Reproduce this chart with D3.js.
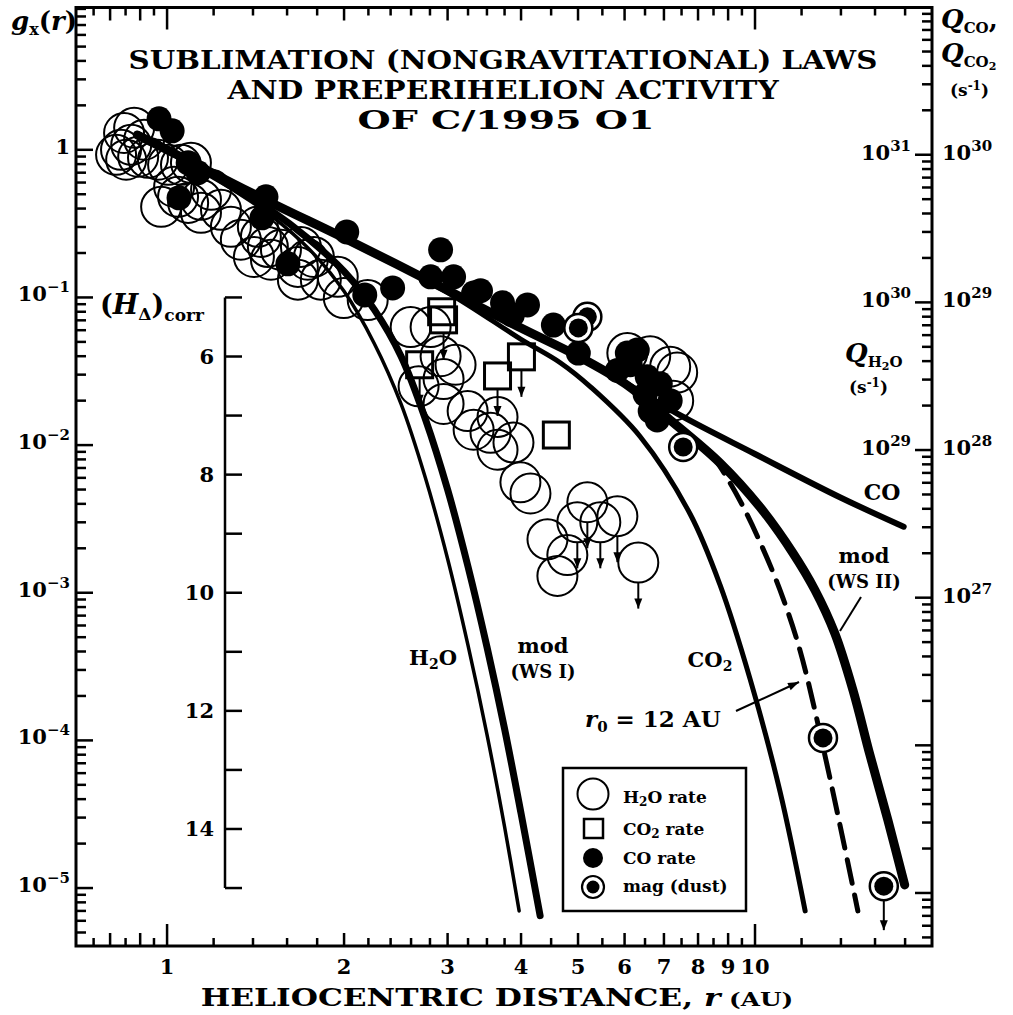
<!DOCTYPE html>
<html>
<head>
<meta charset="utf-8">
<script src="https://cdn.jsdelivr.net/npm/d3@7"></script>
<style>
  body { margin: 0; background: #fff; }
  text { font-family: "DejaVu Serif", serif; font-weight: bold; fill: #000; }
</style>
</head>
<body>
<div id="chart"></div>
<script>
// ---- data ----
// open circles: H2O production rate, normalized (r in AU, g, upper limit flag)
var h2oRate = [
  [0.845,1.30],[0.835,1.0],[0.852,0.856],[0.869,1.08],[0.893,0.897],[0.928,0.883],[0.914,1.17],
  [0.965,0.856],[1.004,0.791],[1.056,0.791],[1.098,0.816],[1.044,0.48],[1.086,0.437],[1.142,0.458],
  [1.188,0.536],[1.235,0.392],[1.284,0.301],[1.335,0.246],[1.427,0.301],[1.484,0.22],[1.562,0.21],
  [1.669,0.161],[1.777,0.188],[1.951,0.138],[1.444,0.257],[1.405,0.188],[1.502,0.18],[1.669,0.132],
  [1.826,0.132],[1.735,0.18],[1.689,0.22],[1.998,0.099],[2.194,0.096],[2.596,0.063],[2.807,0.063],
  [2.919,0.040],[3.095,0.035],[2.678,0.025],[2.953,0.028],[2.953,0.019],[3.245,0.017],[3.322,0.0127],
  [3.648,0.0155],[3.549,0.0121],[3.883,0.0104],[3.648,0.0093],[3.99,0.0056],[4.15,0.0047],
  [4.436,0.0023],[4.795,0.0018],[4.612,0.0013],[4.986,0.0030,1],[5.186,0.0041,1],[5.456,0.0030,1],
  [5.833,0.0033,1],[6.331,0.0016,1],[6.065,0.042],[6.633,0.040],[7.173,0.034],[7.258,0.020],
  [7.372,0.031],[0.879,1.41],[0.819,0.925],[0.977,0.411],[1.028,0.562],[1.142,0.374]
];
// open squares: CO2 rate
var co2Rate = [
  [2.931,0.080,0],[2.953,0.0705,1],[2.689,0.035,1],[3.648,0.0294,1],[4.006,0.0396,1],[4.593,0.0117,0]
];
// filled circles: CO rate
var coRate = [
  [0.969,1.62],[1.02,1.345],[1.086,0.816],[1.129,0.699],[1.048,0.473],[1.473,0.48],[1.45,0.346],
  [1.605,0.169],[2.021,0.278],[2.169,0.104],[2.419,0.116],[2.919,0.21],[2.807,0.138],[3.071,0.138],
  [3.322,0.107],[3.413,0.111],[3.72,0.092],[4.102,0.089],[4.54,0.065],[5.006,0.042],[6.065,0.042],
  [6.306,0.044],[5.833,0.032],[6.556,0.029],[6.9,0.026],[7.173,0.020],[6.633,0.017],[6.818,0.0148],
  [6.504,0.022],[6.136,0.035],[3.867,0.076]
];
// circled dots: magnitude (dust)
var magDust = [
  [5.186,0.0739,0],[5.006,0.0622,0],[7.548,0.0097,0],[13.05,1.04e-4,0],[16.56,1.03e-5,1]
];

// sublimation laws
var lawH2O = [[0.89,1.27],[1.0,1.0],[1.3,0.53],[1.5,0.36],[1.75,0.21],[2.0,0.11],[2.25,0.049],
  [2.5,0.019],[2.75,0.006],[3.0,0.0017],[3.25,4.4e-4],[3.5,1.1e-4],[3.75,2.6e-5],[3.97,7e-6]];
var lawModWS1 = [[0.89,1.27],[1.0,1.0],[1.3,0.55],[1.5,0.39],[1.75,0.245],[2.0,0.15],[2.25,0.083],
  [2.5,0.04],[2.75,0.015],[3.0,0.005],[3.25,0.0015],[3.5,4.3e-4],[3.75,1.2e-4],[4.0,3.2e-5],[4.31,6.5e-6]];
var lawCO = [[0.89,1.26],[1.0,1.0],[1.5,0.44],[2.0,0.253],[3.0,0.112],[4.0,0.062],[5.0,0.040],
  [6.0,0.0265],[7.55,0.0155],[10,0.0087],[14,0.0044],[17.9,0.0028]];
var lawCO2 = [[0.89,1.26],[1.5,0.44],[2.0,0.25],[3.0,0.108],[4.0,0.052],[4.67,0.036],[5.25,0.0248],
  [6.38,0.0114],[7.76,0.0034],[8.72,0.00113],[9.81,2.6e-4],[11.03,4.5e-5],[12.17,7e-6]];
var lawModWS2 = [[0.89,1.26],[1.0,1.0],[1.5,0.44],[2.0,0.253],[3.0,0.112],[4.0,0.062],[5.0,0.040],
  [6.0,0.0262],[7.17,0.0148],[8.71,0.0076],[10.2,0.0038],[11.6,0.00186],[12.65,0.00104],
  [13.67,5.3e-4],[14.67,2.2e-4],[15.68,8e-5],[16.82,2.9e-5],[17.97,1.05e-5]];
var lawR0_12 = [[8.4,0.0088],[8.71,0.0072],[9.43,0.0042],[10.2,0.0022],[11.03,0.00104],
  [11.92,4.1e-4],[13.2,7.4e-5],[14.96,7e-6]];

// axes
var rDomain = [0.7, 20];
var gDomain = [9.2, 4.05e-6];
var qCoPerG = 1.08e30;          // Q_CO (s-1) for g = 1
var qH2oPerG = 1.08e31;         // Q_H2O (s-1) for g = 1
var hDomain = [5, 15];          // (H_delta)corr
var hAtG = [0.1, 1e-5];         // g levels the H axis ends sit at
var rTickLabels = [1,2,3,4,5,6,7,8,9,10];
var rTicks = [0.75,0.8,0.85,0.9,0.95,1,1.2,1.4,1.6,1.8,2,2.2,2.4,2.6,2.8,3,3.25,3.5,3.75,4,
  4.5,5,5.5,6,6.5,7,7.5,8,8.5,9,9.5,10,12,14,16,18];
var rMidTicks = [0.8,0.9,2,3,4,5,6,7,8,9];
var gTickExp = [0,-1,-2,-3,-4,-5];
var qCoTickExp = [30,29,28,27];
var qH2oTickExp = [31,30,29];
var hTickLabels = [6,8,10,12,14];

// ---- drawing ----
var width = 1013, height = 1015;
var pL = 76, pR = 932, pT = 7.5, pB = 946;

var svg = d3.select("#chart").append("svg")
  .attr("width", width).attr("height", height);

var x = d3.scaleLog().domain(rDomain).range([pL, pR]);
var y = d3.scaleLog().domain(gDomain).range([pT, pB]);
var yQ = d3.scaleLog().domain([gDomain[0] * qCoPerG, gDomain[1] * qCoPerG]).range([pT, pB]);
var yH = d3.scaleLinear().domain(hDomain).range([y(hAtG[0]), y(hAtG[1])]);

// helper for text with sub/superscripts
function rich(sel, parts) {
  var prev = 0;
  parts.forEach(function(p) {
    var sh = p.shift || 0;
    var t = sel.append("tspan").text(p.t)
      .attr("font-size", p.size)
      .attr("dy", sh - prev);
    if (p.it) t.attr("font-style", "italic");
    prev = sh;
  });
  return sel;
}
function stretch(t, cx, target) {
  var w = t.node().getBBox().width;
  var s = target / w;
  t.attr("transform", "translate(" + cx + ",0) scale(" + s + ",1) translate(" + (-cx) + ",0)");
}
function arrow(x1, y1, x2, y2, hl, hw) {
  svg.append("line").attr("x1", x1).attr("y1", y1).attr("x2", x2).attr("y2", y2)
    .attr("stroke", "#000").attr("stroke-width", 2);
  var a = Math.atan2(y2 - y1, x2 - x1);
  var bx = x2 - hl * Math.cos(a), by = y2 - hl * Math.sin(a);
  var px = -Math.sin(a) * hw / 2, py = Math.cos(a) * hw / 2;
  svg.append("path")
    .attr("d", "M" + x2 + "," + y2 + "L" + (bx + px) + "," + (by + py) + "L" + (bx - px) + "," + (by - py) + "Z")
    .attr("fill", "#000");
}

// frame
svg.append("rect").attr("x", pL).attr("y", pT)
  .attr("width", pR - pL).attr("height", pB - pT)
  .attr("fill", "none").attr("stroke", "#000").attr("stroke-width", 3);

var ticks = svg.append("g").attr("stroke", "#000").attr("stroke-width", 2.5);

// x ticks top and bottom
rTicks.forEach(function(r) {
  var len = (r === 1 || r === 10) ? 22 : (rMidTicks.indexOf(r) >= 0 ? 13 : 8);
  ticks.append("line").attr("x1", x(r)).attr("x2", x(r)).attr("y1", pB).attr("y2", pB - len);
  ticks.append("line").attr("x1", x(r)).attr("x2", x(r)).attr("y1", pT).attr("y2", pT + len);
});
rTickLabels.forEach(function(r) {
  svg.append("text").attr("x", x(r)).attr("y", 974).attr("text-anchor", "middle")
    .attr("font-size", 21).text(r);
});

// left log ticks
for (var e = -6; e <= 0; e++) {
  for (var m = 1; m <= 9; m++) {
    var v = m * Math.pow(10, e);
    if (v > gDomain[0] || v < gDomain[1]) continue;
    var len = m === 1 ? 17 : 10;
    ticks.append("line").attr("x1", pL).attr("x2", pL + len).attr("y1", y(v)).attr("y2", y(v));
  }
}
gTickExp.forEach(function(ex) {
  var t = svg.append("text").attr("x", 70).attr("y", y(Math.pow(10, ex)) + 4).attr("text-anchor", "end");
  if (ex === 0) rich(t, [{t: "1", size: 21}]);
  else rich(t, [{t: "10", size: 21}, {t: "\u2212" + (-ex), size: 15, shift: -9}]);
});

// right log ticks (Q scale)
for (var e2 = 24; e2 <= 30; e2++) {
  for (var m2 = 1; m2 <= 9; m2++) {
    var q = m2 * Math.pow(10, e2);
    if (q > gDomain[0] * qCoPerG || q < gDomain[1] * qCoPerG) continue;
    var l2 = m2 === 1 ? 17 : 10;
    ticks.append("line").attr("x1", pR).attr("x2", pR - l2).attr("y1", yQ(q)).attr("y2", yQ(q));
  }
}
qCoTickExp.forEach(function(ex) {
  var t = svg.append("text").attr("x", 942).attr("y", yQ(Math.pow(10, ex)) + 5);
  rich(t, [{t: "10", size: 21}, {t: String(ex), size: 15, shift: -9}]);
});
qH2oTickExp.forEach(function(ex) {
  var q = Math.pow(10, ex) * qCoPerG / qH2oPerG;
  var t = svg.append("text").attr("x", 911).attr("y", yQ(q) + 5).attr("text-anchor", "end");
  rich(t, [{t: "10", size: 21}, {t: String(ex), size: 15, shift: -9}]);
});

// inner H axis
var hx = 225;
ticks.append("line").attr("x1", hx).attr("x2", hx).attr("y1", yH(hDomain[0])).attr("y2", yH(hDomain[1]));
d3.range(hDomain[0], hDomain[1] + 1).forEach(function(h) {
  ticks.append("line").attr("x1", hx).attr("x2", hx + 17).attr("y1", yH(h)).attr("y2", yH(h));
});
hTickLabels.forEach(function(h) {
  svg.append("text").attr("x", 214).attr("y", yH(h) + 7).attr("text-anchor", "end")
    .attr("font-size", 21).text(h);
});

// H2O circles
svg.append("g").selectAll("circle").data(h2oRate).enter().append("circle")
  .attr("cx", function(d) { return x(d[0]); })
  .attr("cy", function(d) { return y(d[1]); })
  .attr("r", 20)
  .attr("fill", "none").attr("stroke", "#000").attr("stroke-width", 2);

// curves
var line = d3.line()
  .x(function(d) { return x(d[0]); })
  .y(function(d) { return y(d[1]); })
  .curve(d3.curveCatmullRom.alpha(0.5));
var curves = [
  {d: lawH2O, w: 3.5},
  {d: lawModWS1, w: 7},
  {d: lawCO2, w: 5},
  {d: lawCO, w: 6},
  {d: lawModWS2, w: 9},
  {d: lawR0_12, w: 5, dash: "24,12"}
];
curves.forEach(function(c) {
  svg.append("path").attr("d", line(c.d))
    .attr("fill", "none").attr("stroke", "#000")
    .attr("stroke-width", c.w)
    .attr("stroke-linecap", "round").attr("stroke-linejoin", "round")
    .attr("stroke-dasharray", c.dash || null);
});

// CO2 squares
svg.append("g").selectAll("rect").data(co2Rate).enter().append("rect")
  .attr("x", function(d) { return x(d[0]) - 13; })
  .attr("y", function(d) { return y(d[1]) - 13; })
  .attr("width", 26).attr("height", 26)
  .attr("fill", "none").attr("stroke", "#000").attr("stroke-width", 3);

// CO dots
svg.append("g").selectAll("circle").data(coRate).enter().append("circle")
  .attr("cx", function(d) { return x(d[0]); })
  .attr("cy", function(d) { return y(d[1]); })
  .attr("r", 12.5).attr("fill", "#000");

// mag (dust)
var mg = svg.append("g").selectAll("g").data(magDust).enter().append("g");
mg.append("circle").attr("cx", function(d) { return x(d[0]); }).attr("cy", function(d) { return y(d[1]); })
  .attr("r", 14).attr("fill", "#fff").attr("stroke", "#000").attr("stroke-width", 2.5);
mg.append("circle").attr("cx", function(d) { return x(d[0]); }).attr("cy", function(d) { return y(d[1]); })
  .attr("r", 9.5).attr("fill", "#000");

// upper-limit arrows
h2oRate.filter(function(d) { return d[2]; }).forEach(function(d) {
  arrow(x(d[0]), y(d[1]) + 20, x(d[0]), y(d[1]) + 46, 10, 8);
});
co2Rate.filter(function(d) { return d[2]; }).forEach(function(d) {
  arrow(x(d[0]), y(d[1]) + 13, x(d[0]), y(d[1]) + 40, 10, 8);
});
magDust.filter(function(d) { return d[2]; }).forEach(function(d) {
  arrow(x(d[0]), y(d[1]) + 14, x(d[0]), y(d[1]) + 44, 10, 8);
});

// title
var t1 = svg.append("text").attr("x", 503).attr("y", 69).attr("text-anchor", "middle")
  .attr("font-size", 26).text("SUBLIMATION (NONGRAVITATIONAL) LAWS");
stretch(t1, 503, 749);
var t2 = svg.append("text").attr("x", 503).attr("y", 99).attr("text-anchor", "middle")
  .attr("font-size", 26).text("AND PREPERIHELION ACTIVITY");
stretch(t2, 503, 553);
var t3 = svg.append("text").attr("x", 506).attr("y", 129).attr("text-anchor", "middle")
  .attr("font-size", 26).text("OF C/1995 O1");
stretch(t3, 506, 297);

// axis titles
rich(svg.append("text").attr("x", 11).attr("y", 30), [
  {t: "g", size: 26, it: true}, {t: "x", size: 16, shift: 5}, {t: "(", size: 26}, {t: "r", size: 26, it: true}, {t: ")", size: 26}
]);
var xt = svg.append("text").attr("x", 497).attr("y", 1006).attr("text-anchor", "middle");
rich(xt, [{t: "HELIOCENTRIC DISTANCE, ", size: 24}, {t: "r", size: 24, it: true}, {t: " (AU)", size: 19}]);
stretch(xt, 497, 593);

rich(svg.append("text").attr("x", 100).attr("y", 314), [
  {t: "(", size: 27}, {t: "H", size: 27, it: true}, {t: "\u0394", size: 17, shift: 6},
  {t: ")", size: 27}, {t: "corr", size: 17, shift: 7}
]);

rich(svg.append("text").attr("x", 941).attr("y", 28), [
  {t: "Q", size: 26, it: true}, {t: "CO", size: 15, shift: 5}, {t: ",", size: 26}
]);
rich(svg.append("text").attr("x", 941).attr("y", 62), [
  {t: "Q", size: 26, it: true}, {t: "CO", size: 15, shift: 5}, {t: "2", size: 11, shift: 8}
]);
rich(svg.append("text").attr("x", 950).attr("y", 96), [
  {t: "(s", size: 17}, {t: "-1", size: 12, shift: -6}, {t: ")", size: 17}
]);
rich(svg.append("text").attr("x", 845).attr("y", 362), [
  {t: "Q", size: 26, it: true}, {t: "H", size: 15, shift: 5}, {t: "2", size: 11, shift: 8}, {t: "O", size: 15, shift: 5}
]);
rich(svg.append("text").attr("x", 849).attr("y", 393), [
  {t: "(s", size: 17}, {t: "-1", size: 12, shift: -6}, {t: ")", size: 17}
]);

// curve labels
svg.append("text").attr("x", 882).attr("y", 500).attr("text-anchor", "middle").attr("font-size", 22).text("CO");
svg.append("text").attr("x", 864).attr("y", 563).attr("text-anchor", "middle").attr("font-size", 21).text("mod");
svg.append("text").attr("x", 864).attr("y", 588).attr("text-anchor", "middle").attr("font-size", 18).text("(WS II)");
svg.append("line").attr("x1", 861).attr("y1", 597).attr("x2", 840).attr("y2", 631)
  .attr("stroke", "#000").attr("stroke-width", 2);
rich(svg.append("text").attr("x", 433).attr("y", 665).attr("text-anchor", "middle"), [
  {t: "H", size: 21}, {t: "2", size: 14, shift: 4}, {t: "O", size: 21}
]);
svg.append("text").attr("x", 543).attr("y", 653).attr("text-anchor", "middle").attr("font-size", 21).text("mod");
svg.append("text").attr("x", 543).attr("y", 678).attr("text-anchor", "middle").attr("font-size", 18).text("(WS I)");
rich(svg.append("text").attr("x", 710).attr("y", 667).attr("text-anchor", "middle"), [
  {t: "CO", size: 21}, {t: "2", size: 14, shift: 4}
]);
var r0 = svg.append("text").attr("x", 585).attr("y", 727);
rich(r0, [{t: "r", size: 23, it: true}, {t: "0", size: 15, shift: 5}, {t: " = 12 AU", size: 23}]);
arrow(736, 711, 799, 682, 11, 8);

// legend
var lg = svg.append("g");
lg.append("rect").attr("x", 563).attr("y", 768).attr("width", 183).attr("height", 143)
  .attr("fill", "#fff").attr("stroke", "#000").attr("stroke-width", 2.5);
lg.append("circle").attr("cx", 593).attr("cy", 794).attr("r", 15.5)
  .attr("fill", "none").attr("stroke", "#000").attr("stroke-width", 2);
lg.append("rect").attr("x", 584).attr("y", 819).attr("width", 19).attr("height", 19)
  .attr("fill", "none").attr("stroke", "#000").attr("stroke-width", 2.5);
lg.append("circle").attr("cx", 593).attr("cy", 858).attr("r", 10).attr("fill", "#000");
lg.append("circle").attr("cx", 593).attr("cy", 887).attr("r", 11)
  .attr("fill", "#fff").attr("stroke", "#000").attr("stroke-width", 2.2);
lg.append("circle").attr("cx", 593).attr("cy", 887).attr("r", 6.5).attr("fill", "#000");
rich(lg.append("text").attr("x", 623).attr("y", 803), [
  {t: "H", size: 17}, {t: "2", size: 12, shift: 3}, {t: "O rate", size: 17}
]);
rich(lg.append("text").attr("x", 623).attr("y", 835), [
  {t: "CO", size: 17}, {t: "2", size: 12, shift: 3}, {t: " rate", size: 17}
]);
lg.append("text").attr("x", 623).attr("y", 864).attr("font-size", 17).text("CO rate");
lg.append("text").attr("x", 623).attr("y", 892).attr("font-size", 17).text("mag (dust)");
</script>
</body>
</html>
